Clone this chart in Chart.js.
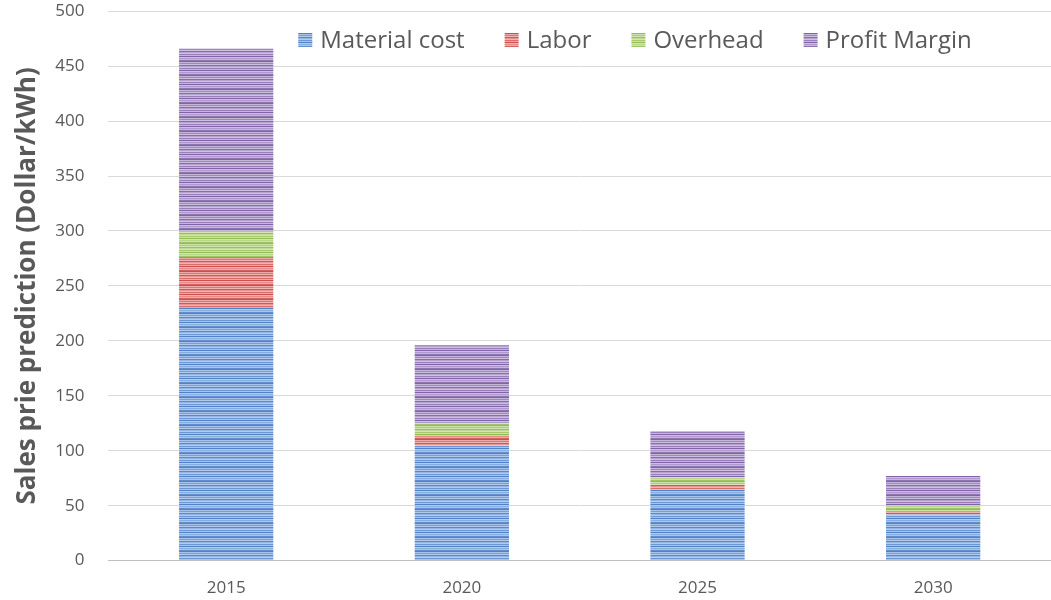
<!DOCTYPE html>
<html>
<head>
<meta charset="utf-8">
<title>Sales price prediction</title>
<script src="https://cdn.jsdelivr.net/npm/chart.js@4.4.1/dist/chart.umd.min.js"></script>
<style>
  html, body { margin: 0; padding: 0; background: #fff; overflow: hidden; }
  /* the original is cropped at the top, so the canvas is a bit taller and pulled up */
  #chart { display: block; margin-top: -23px; }
</style>
</head>
<body>
<canvas id="chart" width="1051" height="641"></canvas>
<script>
// Data
const years = ['2015', '2020', '2025', '2030'];
const materialCost = [230, 105, 65, 42];
const labor = [46, 9, 4, 3];
const overhead = [24, 11, 7, 5];
const profitMargin = [166, 71, 42, 27];

const seriesNames = ['Material cost', 'Labor', 'Overhead', 'Profit Margin'];

const TEXT_COLOR = '#595959';
const FONT = "'Open Sans', 'Noto Sans', sans-serif";

// Excel-like striped fill: rows alternate between the base colour and a pale tint
function mix(a, b, t) {
  const pa = a.match(/\w\w/g).map(h => parseInt(h, 16));
  const pb = b.match(/\w\w/g).map(h => parseInt(h, 16));
  const c = pa.map((v, i) => Math.round(v + (pb[i] - v) * t));
  return `rgb(${c[0]},${c[1]},${c[2]})`;
}

function stripes(dark, light) {
  const rows = [0, 0.9, 0.4, 1, 0.1, 0.7, 1, 0.3, 0.9, 0, 1, 0.6, 0.9, 0.2];
  const c = document.createElement('canvas');
  c.width = 4;
  c.height = rows.length;
  const g = c.getContext('2d');
  rows.forEach((t, i) => {
    g.fillStyle = mix(dark, light, t);
    g.fillRect(0, i, 4, 1);
  });
  return g.createPattern(c, 'repeat');
}

const fills = [
  stripes('#4f81c7', '#b3cbee'),
  stripes('#cc4f4c', '#f0b4b2'),
  stripes('#93bb55', '#d3e6b2'),
  stripes('#8063a8', '#cdbfe0')
];

// Legend drawn inside the plot area, like the original
const insideLegend = {
  id: 'insideLegend',
  afterDraw(chart) {
    const ctx = chart.ctx;
    const box = 14, boxGap = 8, itemGap = 40, centerX = 635, y = 63;
    ctx.save();
    ctx.font = `24px ${FONT}`;
    ctx.textBaseline = 'middle';
    const items = chart.data.datasets.map(ds => ({
      label: ds.label,
      fill: ds.backgroundColor,
      w: ctx.measureText(ds.label).width
    }));
    const total = items.reduce((s, it) => s + box + boxGap + it.w, 0) + itemGap * (items.length - 1);
    let x = centerX - total / 2;
    items.forEach(it => {
      ctx.fillStyle = it.fill;
      ctx.fillRect(x, y - box / 2, box, box);
      x += box + boxGap;
      ctx.fillStyle = TEXT_COLOR;
      ctx.fillText(it.label, x, y + 1);
      x += it.w + itemGap;
    });
    ctx.restore();
  }
};

const seriesValues = [materialCost, labor, overhead, profitMargin];

new Chart(document.getElementById('chart'), {
  type: 'bar',
  data: {
    labels: years,
    datasets: seriesNames.map((name, i) => ({
      label: name,
      data: seriesValues[i],
      backgroundColor: fills[i],
      borderWidth: 0,
      barPercentage: 1,
      categoryPercentage: 0.4
    }))
  },
  options: {
    responsive: false,
    animation: false,
    layout: { padding: { top: 0, right: 0, left: 12, bottom: 3 } },
    plugins: {
      legend: { display: false },
      tooltip: { enabled: false }
    },
    scales: {
      x: {
        stacked: true,
        grid: { display: false, drawTicks: false },
        border: { color: '#bfbfbf', width: 1 },
        ticks: { color: TEXT_COLOR, font: { family: FONT, size: 17 }, padding: 17 }
      },
      y: {
        stacked: true,
        min: 0,
        max: 500,
        grid: { color: '#d9d9d9', drawTicks: false },
        border: { display: false },
        ticks: { stepSize: 50, color: TEXT_COLOR, font: { family: FONT, size: 17 }, padding: 24 },
        title: {
          display: true,
          text: 'Sales prie prediction (Dollar/kWh)',
          color: TEXT_COLOR,
          font: { family: FONT, size: 26, weight: 'bold' },
          padding: { top: 0, bottom: -12 }
        }
      }
    }
  },
  plugins: [insideLegend]
});
</script>
</body>
</html>
